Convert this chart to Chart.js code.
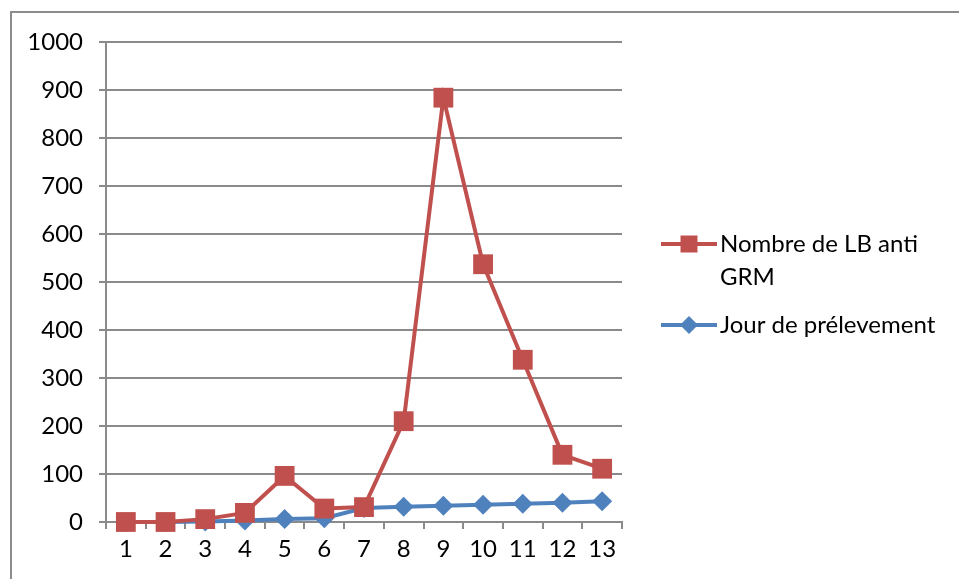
<!DOCTYPE html>
<html>
<head>
	<meta charset="utf-8">
	<title>LB anti GRM</title>
	<script src="https://cdn.jsdelivr.net/npm/chart.js@4.4.1/dist/chart.umd.min.js"></script>
	<style>
		html, body { margin: 0; padding: 0; background: #fff; }
		#wrap { position: relative; width: 959px; height: 579px; overflow: hidden; }
		#frame { position: absolute; left: 10px; top: 11px; width: 1000px; height: 700px;
			border-left: 2px solid #8c8c8c; border-top: 2px solid #8c8c8c; }
		canvas { position: absolute; left: 0; top: 0; }
	</style>
</head>
<body>
<div id="wrap">
	<div id="frame"></div>
	<canvas id="myChart" width="959" height="579"></canvas>
</div>

<script>
	// values
	const days = ['1', '2', '3', '4', '5', '6', '7', '8', '9', '10', '11', '12', '13'];
	const lbAntiGrm = [0, 0, 6, 19, 96, 28, 31, 210, 884, 537, 338, 140, 111];
	const jourPrelevement = [0, 0, 1, 3, 6, 8, 29, 32, 34, 36, 38, 40, 43];
	const yTicks = [0, 100, 200, 300, 400, 500, 600, 700, 800, 900, 1000];
	const legendLines = [['Nombre de LB anti', 'GRM'], ['Jour de prélevement']];

	const red = '#C0504D';
	const blue = '#4F81BD';
	const gridGray = '#8a8a8a';
	const font = 'Lato';

	// legend on the right, drawn by hand so the long label can wrap
	const sideLegend = {
		id: 'sideLegend',
		afterDraw(chart) {
			const ctx = chart.ctx;
			const rows = [{ y: 244 }, { y: 325 }];
			ctx.save();
			chart.data.datasets.forEach((ds, i) => {
				const y = rows[i].y;
				ctx.strokeStyle = ds.borderColor;
				ctx.lineWidth = 4;
				ctx.beginPath();
				ctx.moveTo(661, y);
				ctx.lineTo(717, y);
				ctx.stroke();
				ctx.fillStyle = ds.backgroundColor;
				Chart.helpers.drawPoint(ctx, {
					pointStyle: ds.pointStyle,
					radius: ds.pointStyle === 'rect' ? 12 : 9,
					borderWidth: 0
				}, 689, y);
				ctx.fillStyle = '#000';
				ctx.font = '24px ' + font;
				ctx.textBaseline = 'middle';
				ctx.textAlign = 'left';
				legendLines[i].forEach((t, k) => {
					ctx.fillText(t, 720, y + k * 33);
				});
			});
			ctx.restore();
		}
	};

	const ctx = document.getElementById('myChart').getContext('2d');
	const chart = new Chart(ctx, {
		type: 'line',
		data: {
			labels: days,
			datasets: [
				{
					label: legendLines[0].join(' '),
					data: lbAntiGrm,
					borderColor: red,
					backgroundColor: red,
					borderWidth: 4,
					pointStyle: 'rect',
					pointRadius: 14,
					pointHoverRadius: 14,
					pointBorderWidth: 0,
					tension: 0,
					clip: false
				},
				{
					label: legendLines[1].join(' '),
					data: jourPrelevement,
					borderColor: blue,
					backgroundColor: blue,
					borderWidth: 4,
					pointStyle: 'rectRot',
					pointRadius: 10,
					pointHoverRadius: 10,
					pointBorderWidth: 0,
					tension: 0,
					clip: false
				}
			]
		},
		options: {
			responsive: false,
			animation: false,
			layout: { padding: { left: 0, top: 42, right: 337, bottom: 0 } },
			plugins: {
				legend: { display: false },
				tooltip: { enabled: false }
			},
			scales: {
				x: {
					offset: true,
					grid: {
						offset: true,
						drawOnChartArea: false,
						drawTicks: true,
						tickLength: 7,
						color: gridGray,
						lineWidth: 2
					},
					border: { color: gridGray, width: 2 },
					ticks: {
						color: '#000',
						font: { family: font, size: 24 },
						padding: 6,
						maxRotation: 0
					},
					afterFit(scale) { scale.height = 57; }
				},
				y: {
					min: 0,
					max: 1000,
					afterBuildTicks(scale) { scale.ticks = yTicks.map(v => ({ value: v })); },
					grid: {
						color: gridGray,
						lineWidth: 2,
						drawTicks: true,
						tickLength: 7
					},
					border: { color: gridGray, width: 2 },
					ticks: {
						color: '#000',
						font: { family: font, size: 24 },
						padding: 16,
						callback: (v) => String(v)
					},
					afterFit(scale) { scale.width = 106; }
				}
			}
		},
		plugins: [sideLegend]
	});
</script>
</body>
</html>
